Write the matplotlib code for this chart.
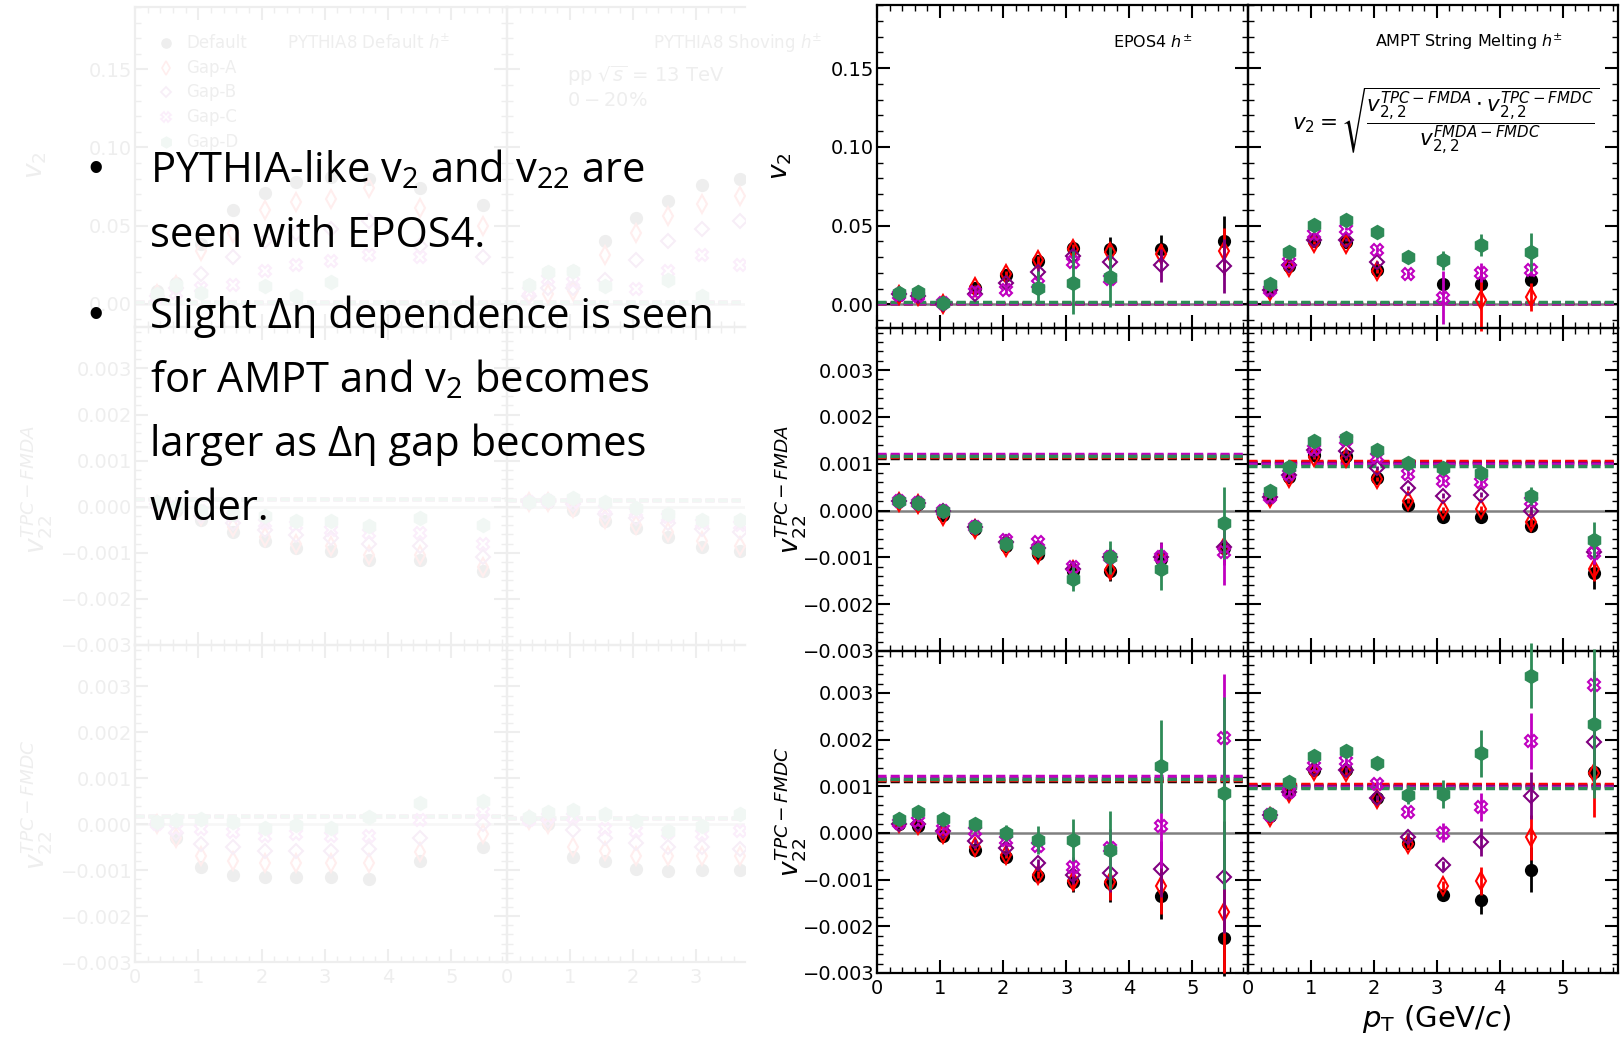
import numpy as np
import matplotlib
matplotlib.use("Agg")
import matplotlib.pyplot as plt
from matplotlib.ticker import MultipleLocator, FuncFormatter
from matplotlib.colors import to_rgb

nan = np.nan

# ---------------- data ----------------
series_names = ["Default", "Gap-A", "Gap-B", "Gap-C", "Gap-D"]
pt = [0.35, 0.65, 1.05, 1.55, 2.05, 2.55, 3.1, 3.7, 4.5, 5.5]

# EPOS4 v2
epos_v2 = [
    [0.006, 0.006, 0.001, 0.0106, 0.0185, 0.0277, 0.0355, 0.035, 0.035, 0.040],
    [0.006, 0.005, 0.0, 0.011, 0.019, 0.028, 0.035, 0.033, 0.032, 0.0336],
    [0.0064, 0.0053, 0.0, 0.0068, 0.0138, 0.0206, 0.0309, 0.0266, 0.0249, 0.0245],
    [0.006, 0.005, 0.001, 0.008, 0.009, 0.0128, 0.0266, 0.016, nan, nan],
    [0.0074, 0.0079, 0.001, nan, nan, 0.0106, 0.0138, 0.0174, nan, nan],
]
epos_v2_err = [
    [0.0008, 0.0008, 0.001, 0.0015, 0.002, 0.003, 0.0035, 0.0075, 0.009, 0.016],
    [0.0008, 0.0008, 0.001, 0.0015, 0.002, 0.003, 0.0035, 0.0045, 0.006, 0.015],
    [0.0008, 0.0008, 0.001, 0.0015, 0.002, 0.003, 0.004, 0.006, 0.0105, 0.017],
    [0.0008, 0.0008, 0.001, 0.002, 0.002, 0.003, 0.004, 0.005, nan, nan],
    [0.0008, 0.0008, 0.001, nan, nan, 0.0105, 0.020, 0.019, nan, nan],
]
# AMPT v2
ampt_v2 = [
    [0.0096, 0.0245, 0.040, 0.0394, 0.022, nan, 0.0128, 0.0128, 0.0153, nan],
    [0.0085, 0.024, 0.039, 0.038, 0.021, nan, nan, 0.003, 0.0047, nan],
    [0.009, 0.025, 0.041, 0.041, 0.0266, nan, nan, nan, nan, nan],
    [0.009, 0.027, 0.0447, 0.048, 0.0347, 0.019, 0.0043, 0.020, 0.022, nan],
    [0.0132, 0.033, 0.0504, 0.0536, 0.0457, 0.0298, 0.028, 0.0379, 0.033, nan],
]
ampt_v2_err = [
    [0.0005, 0.0008, 0.001, 0.001, 0.0012, nan, 0.003, 0.005, 0.004, nan],
    [0.0005, 0.0008, 0.001, 0.001, 0.0012, nan, nan, 0.020, 0.009, nan],
    [0.0005, 0.0008, 0.001, 0.001, 0.0012, nan, nan, nan, nan, nan],
    [0.0005, 0.0008, 0.001, 0.001, 0.0015, 0.002, 0.017, 0.006, 0.004, nan],
    [0.0005, 0.0008, 0.001, 0.001, 0.0015, 0.002, 0.006, 0.007, 0.012, nan],
]
# EPOS4 v22 TPC-FMDA
epos_v22a = [
    [0.00021, 0.00014, -0.0001, -0.00039, -0.00075, -0.00093, -0.00129, -0.00129, -0.00104, -0.00079],
    [0.00019, 0.00013, -0.00012, -0.00040, -0.00078, -0.00092, -0.00128, -0.00126, -0.00103, -0.00078],
    [0.00021, 0.00016, 0.0, -0.00035, -0.00068, -0.00080, -0.00125, -0.00099, -0.00100, -0.00077],
    [0.00021, 0.00016, 0.0, -0.00035, -0.00063, -0.00067, -0.00120, -0.00100, -0.00100, -0.00088],
    [0.00021, 0.00017, 0.0, -0.00035, -0.00072, -0.00085, -0.00146, -0.00100, -0.00124, -0.00027],
]
epos_v22a_err = [
    [2e-5, 2e-5, 3e-5, 3e-5, 4e-5, 5e-5, 8e-5, 0.00022, 0.00025, 0.0003],
    [2e-5, 2e-5, 3e-5, 3e-5, 4e-5, 5e-5, 8e-5, 0.0002, 0.00025, 0.0003],
    [2e-5, 2e-5, 3e-5, 3e-5, 4e-5, 5e-5, 1e-4, 0.0002, 0.00032, 0.0004],
    [2e-5, 2e-5, 3e-5, 3e-5, 4e-5, 5e-5, 1e-4, 0.00015, 0.0003, 0.0007],
    [2e-5, 2e-5, 3e-5, 3e-5, 4e-5, 6e-5, 0.00025, 0.00035, 0.00045, 0.00077],
]
# AMPT v22 TPC-FMDA
ampt_v22a = [
    [0.00029, 0.00071, 0.00118, 0.00116, 0.00069, 0.00012, -0.00014, -0.00014, -0.00032, -0.00134],
    [0.00027, 0.00070, 0.00115, 0.00113, 0.00068, 0.00021, 0.00001, 0.00004, -0.00025, -0.00125],
    [0.00029, 0.00075, 0.00129, 0.00127, 0.00091, 0.00048, 0.00032, 0.00034, 0.0, -0.00089],
    [0.00030, 0.00078, 0.00132, 0.00150, 0.00114, 0.00079, 0.00064, 0.00061, 0.00021, -0.00090],
    [0.00041, 0.00093, 0.00148, 0.00155, 0.00130, 0.00102, 0.00091, 0.00081, 0.00031, -0.00063],
]
ampt_v22a_err = [
    [2e-5, 3e-5, 4e-5, 4e-5, 4e-5, 5e-5, 6e-5, 6e-5, 1e-4, 0.00033],
    [2e-5, 3e-5, 4e-5, 4e-5, 4e-5, 5e-5, 6e-5, 6e-5, 1e-4, 0.00025],
    [2e-5, 3e-5, 4e-5, 4e-5, 4e-5, 5e-5, 6e-5, 6e-5, 1e-4, 0.00025],
    [2e-5, 3e-5, 4e-5, 4e-5, 4e-5, 5e-5, 6e-5, 6e-5, 1e-4, 0.00025],
    [2e-5, 3e-5, 4e-5, 4e-5, 4e-5, 5e-5, 6e-5, 6e-5, 0.0002, 0.00038],
]
# EPOS4 v22 TPC-FMDC
epos_v22c = [
    [0.00020, 0.00016, -0.00006, -0.00036, -0.00052, -0.00093, -0.00106, -0.00107, -0.00134, -0.00226],
    [0.00022, 0.00018, -0.00003, -0.00031, -0.00047, -0.00089, -0.00102, -0.00104, -0.00113, -0.00170],
    [0.00019, 0.00019, 0.00005, -0.00018, -0.00033, -0.00065, -0.00090, -0.00086, -0.00077, -0.00095],
    [0.00022, 0.00026, 0.00009, 0.00004, -0.00016, -0.00027, -0.00072, -0.00032, 0.00014, 0.00204],
    [0.00030, 0.00044, 0.00030, 0.00019, 0.0, -0.00016, -0.00016, -0.00036, 0.00143, 0.00086],
]
epos_v22c_err = [
    [3e-5, 3e-5, 3e-5, 5e-5, 6e-5, 8e-5, 0.0002, 0.0004, 0.0005, 0.0008],
    [3e-5, 3e-5, 3e-5, 5e-5, 6e-5, 8e-5, 0.0002, 0.0004, 0.0006, 0.0013],
    [3e-5, 3e-5, 3e-5, 5e-5, 8e-5, 1e-4, 0.0002, 0.0004, 0.0006, 0.0012],
    [3e-5, 3e-5, 3e-5, 6e-5, 1e-4, 1.2e-4, 0.0002, 0.0004, 0.0009, 0.00136],
    [3e-5, 3e-5, 4e-5, 6e-5, 0.00018, 0.0003, 0.00045, 0.00083, 0.0010, 0.00205],
]
# AMPT v22 TPC-FMDC
ampt_v22c = [
    [0.00037, 0.00087, 0.00134, 0.00135, 0.00075, -0.00021, -0.00132, -0.00144, -0.00079, 0.00130],
    [0.00035, 0.00085, 0.00133, 0.00130, 0.00072, -0.00024, -0.00113, -0.00102, -0.00009, 0.00129],
    [0.00038, 0.00088, 0.00137, 0.00136, 0.00076, -0.00009, -0.00069, -0.00019, 0.00080, 0.00196],
    [0.00038, 0.00088, 0.00144, 0.00155, 0.00105, 0.00046, 0.00001, 0.00056, 0.00198, 0.00318],
    [0.00041, 0.00110, 0.00164, 0.00176, 0.00151, 0.00082, 0.00084, 0.00171, 0.00337, 0.00234],
]
ampt_v22c_err = [
    [3e-5, 4e-5, 5e-5, 5e-5, 6e-5, 8e-5, 1e-4, 0.0003, 0.00048, 0.0003],
    [3e-5, 4e-5, 5e-5, 5e-5, 6e-5, 8e-5, 1e-4, 0.0003, 0.00048, 0.00095],
    [3e-5, 4e-5, 5e-5, 5e-5, 6e-5, 8e-5, 1e-4, 0.0003, 0.0005, 0.0011],
    [3e-5, 4e-5, 5e-5, 5e-5, 6e-5, 8e-5, 0.0002, 0.0003, 0.0006, 0.0003],
    [3e-5, 4e-5, 5e-5, 5e-5, 6e-5, 0.0002, 0.0003, 0.0005, 0.0007, 0.0016],
]
# dashed reference levels per series
epos_v2_ref = [0.0010, 0.0010, 0.0011, 0.0011, 0.0012]
ampt_v2_ref = [0.0010, 0.0010, 0.0011, 0.0011, 0.0012]
epos_v22a_ref = [0.00112, 0.00114, 0.00119, 0.00121, 0.00116]
epos_v22c_ref = [0.00112, 0.00114, 0.00118, 0.00123, 0.00116]
ampt_v22a_ref = [0.00103, 0.00105, 0.00101, 0.00099, 0.00096]
ampt_v22c_ref = [0.00103, 0.00105, 0.00101, 0.00099, 0.00096]

# faded background (PYTHIA8) values
py_def_v2 = [
    [0.008, 0.013, 0.038, 0.060, 0.071, 0.078, 0.081, 0.080, 0.074, 0.063],
    [0.006, 0.012, 0.034, 0.045, 0.060, 0.065, 0.067, 0.074, 0.061, 0.050],
    [0.005, 0.010, 0.019, 0.030, 0.040, 0.045, 0.048, 0.053, 0.037, 0.030],
    [0.004, 0.007, 0.010, 0.012, 0.021, 0.025, 0.027, 0.031, 0.030, nan],
    [0.006, 0.012, 0.007, nan, 0.011, 0.005, 0.014, nan, nan, nan],
]
py_sho_v2 = [
    [0.012, 0.020, 0.021, 0.040, 0.055, 0.066, 0.076, 0.080, nan, nan],
    [0.006, 0.006, 0.008, 0.031, 0.045, 0.056, 0.064, 0.069, nan, nan],
    [0.005, 0.010, 0.010, 0.015, 0.028, 0.040, 0.048, 0.053, nan, nan],
    [0.008, 0.016, 0.014, nan, 0.0096, 0.021, 0.031, 0.025, nan, nan],
    [0.012, 0.020, 0.021, 0.011, nan, 0.015, 0.005, nan, nan, nan],
]
py_def_v22a = [
    [0.00005, -0.0001, -0.00028, -0.00054, -0.00074, -0.0009, -0.00096, -0.00115, -0.00115, -0.0014],
    [0.00003, -0.00008, -0.0002, -0.00045, -0.00065, -0.0008, -0.00086, -0.00105, -0.00105, -0.0013],
    [0.00005, -0.00005, -0.0002, -0.00035, -0.0005, -0.00062, -0.00068, -0.0008, -0.00085, -0.0011],
    [0.00008, 0.0, -0.0001, -0.0002, -0.00035, -0.0004, -0.0005, -0.00058, -0.00058, -0.0008],
    [0.0001, 0.0, -0.0001, -0.00015, -0.00021, -0.00032, -0.00032, -0.00041, -0.00025, -0.00039],
]
py_sho_v22a = [
    [0.0001, 0.0001, -0.00007, -0.00032, -0.00046, -0.00065, -0.00087, -0.00097, nan, nan],
    [0.0001, 0.0001, -0.00003, -0.00026, -0.0004, -0.00055, -0.00075, -0.00085, nan, nan],
    [0.0001, 0.00012, 0.00005, -0.00015, -0.00025, -0.00035, -0.00048, -0.00055, nan, nan],
    [0.0001, 0.00013, 0.0001, -0.00005, -0.00012, -0.00022, -0.00035, -0.0004, nan, nan],
    [0.0001, 0.00015, 0.0002, 0.0001, -0.00003, -0.00015, -0.00028, -0.00028, nan, nan],
]
py_def_v22c = [
    [0.00004, -0.0003, -0.00093, -0.00111, -0.00116, -0.00116, -0.00116, -0.00119, -0.0008, -0.0005],
    [0.0, -0.0003, -0.0007, -0.0008, -0.00085, -0.00085, -0.00085, -0.00085, -0.0006, -0.00022],
    [0.0, -0.0002, -0.00044, -0.0005, -0.00059, -0.00059, -0.00059, -0.00053, -0.0003, 0.0],
    [0.0, -0.0001, -0.0001, -0.00018, -0.00026, -0.00022, -0.00026, -0.00026, 0.0001, 0.00026],
    [0.00005, 0.0001, 0.00011, 0.00004, -0.00009, -0.00001, -0.00009, 0.00015, 0.00046, 0.0005],
]
py_sho_v22c = [
    [0.00011, 0.0, -0.00072, -0.0008, -0.00097, -0.00103, -0.001, -0.001, nan, nan],
    [0.0001, 0.0, -0.0005, -0.00059, -0.0007, -0.0007, -0.0007, -0.0007, nan, nan],
    [0.0001, 0.0001, -0.00013, -0.0003, -0.0004, -0.0005, -0.0005, -0.00053, nan, nan],
    [0.0001, 0.00015, 0.00015, -0.0001, -0.00015, -0.0002, -0.00022, -0.00015, nan, nan],
    [0.00015, 0.00026, 0.0003, 0.00022, 0.00007, -0.00015, -0.00004, 0.00022, nan, nan],
]
py_v2_ref = [0.001] * 5
py_def_v22a_ref = [0.00017] * 5
py_sho_v22a_ref = [0.00015] * 5
py_def_v22c_ref = [0.00018] * 5
py_sho_v22c_ref = [0.00014] * 5

# ---------------- style ----------------
colors = ["black", "red", "purple", "#c000c0", "seagreen"]
markers = ["o", "d", "D", "X", "h"]
msizes = [8, 9, 7, 8.5, 9.5]
filled = [True, False, False, False, True]

W, H, DPI = 1623, 1037, 100
fig = plt.figure(figsize=(W / DPI, H / DPI), dpi=DPI)
fig.patch.set_facecolor("white")

FADE = 0.065


def fade(c, a=FADE):
    r, g, b = to_rgb(c)
    return (1 - a * (1 - r), 1 - a * (1 - g), 1 - a * (1 - b))


def add_ax(x0, y0, x1, y1):
    return fig.add_axes([x0 / W, 1 - y1 / H, (x1 - x0) / W, (y1 - y0) / H])


def fmt_factory(nd):
    def f(v, pos):
        s = f"{v:.{nd}f}"
        if float(s) == 0:
            s = f"{0:.{nd}f}"
        return s.replace("-", "\u2212")
    return FuncFormatter(f)


def style(ax, ylim, major, minor, nd, xlim=(0, 5.88), labelleft=True,
          labelbottom=False, faded=False):
    fc = fade("black") if faded else "black"
    ax.set_xlim(*xlim)
    ax.set_ylim(*ylim)
    ax.set_facecolor("none")
    ax.xaxis.set_major_locator(MultipleLocator(1))
    ax.xaxis.set_minor_locator(MultipleLocator(0.2))
    ax.yaxis.set_major_locator(MultipleLocator(major))
    ax.yaxis.set_minor_locator(MultipleLocator(minor))
    ax.yaxis.set_major_formatter(fmt_factory(nd))
    ax.tick_params(which="both", direction="in", top=True, right=True,
                   labelleft=labelleft, labelbottom=labelbottom,
                   color=fc, labelcolor=fc)
    ax.tick_params(which="major", length=9.5, width=1.5, labelsize=14)
    ax.tick_params(axis="y", which="major", pad=2)
    ax.tick_params(axis="x", which="major", pad=4)
    ax.tick_params(which="minor", length=4.5, width=1)
    for s in ax.spines.values():
        s.set_linewidth(1.6)
        s.set_color(fc)


def draw(ax, vals, errs, refs, faded=False):
    ax.axhline(0, color=fade("gray") if faded else "gray", lw=1.8, zorder=1)
    for i in range(5):
        c = fade(colors[i]) if faded else colors[i]
        ax.axhline(refs[i], color=c, lw=2.5, dashes=(2.6, 1.2), zorder=2)
    for i in range(5):
        c = fade(colors[i]) if faded else colors[i]
        mfc = c if filled[i] else "none"
        if errs is None:
            ax.plot(pt, vals[i], ls="none", marker=markers[i], ms=msizes[i],
                    mfc=mfc, mec=c, mew=1.5, zorder=3 + i)
        else:
            ax.errorbar(pt, vals[i], yerr=errs[i], fmt=markers[i], color=c,
                        ms=msizes[i], mfc=mfc, mec=c, mew=1.5, elinewidth=2,
                        capsize=0, zorder=3 + i, clip_on=False)


# ---------------- faded background figure ----------------
fcolA = (135, 507)
fcolB = (507, 745)
frows = [(7, 327), (327, 645), (645, 962)]
fsets = [
    (py_def_v2, py_sho_v2, (-0.015, 0.19), 0.05, 0.01, 2, py_v2_ref, py_v2_ref),
    (py_def_v22a, py_sho_v22a, (-0.003, 0.0039), 0.001, 0.0002, 3, py_def_v22a_ref, py_sho_v22a_ref),
    (py_def_v22c, py_sho_v22c, (-0.003, 0.0039), 0.001, 0.0002, 3, py_def_v22c_ref, py_sho_v22c_ref),
]
for r, (va, vb, yl, mj, mn, nd, ra, rb) in enumerate(fsets):
    y0, y1 = frows[r]
    axa = add_ax(fcolA[0], y0, fcolA[1], y1)
    style(axa, yl, mj, mn, nd, labelleft=True, labelbottom=(r == 2), faded=True)
    draw(axa, va, None, ra, faded=True)
    axb = add_ax(fcolB[0], y0, fcolB[1], y1)
    style(axb, yl, mj, mn, nd, xlim=(0, 3.78), labelleft=False,
          labelbottom=(r == 2), faded=True)
    axb.spines["right"].set_visible(False)
    axb.tick_params(which="both", right=False)
    draw(axb, vb, None, rb, faded=True)
    if r == 0:
        for i in range(5):
            fy = 1 - (43 + 24.7 * i) / H
            fig.lines.append(plt.Line2D([166 / W], [fy], transform=fig.transFigure,
                                        ls="none", marker=markers[i], ms=msizes[i] * 0.8,
                                        mfc=fade(colors[i]) if filled[i] else "none",
                                        mec=fade(colors[i]), mew=1.2))
            fig.text(186 / W, fy, series_names[i], fontsize=12, color=fade("black"),
                     va="center", ha="left")
        fig.text(287 / W, 1 - 43 / H, r"PYTHIA8 Default $h^{\pm}$", fontsize=12,
                 color=fade("black"), va="center", ha="left")
        fig.text(653 / W, 1 - 43 / H, r"PYTHIA8 Shoving $h^{\pm}$", fontsize=12,
                 color=fade("black"), va="center", ha="left")
        fig.text(567 / W, 1 - 76 / H, r"pp $\sqrt{s}$ = 13 TeV", fontsize=14,
                 color=fade("black"), va="center", ha="left")
        fig.text(567 / W, 1 - 100 / H, r"$0-20\%$", fontsize=14,
                 color=fade("black"), va="center", ha="left")

for yc, lab in [(165, r"$v_2$"), (490, r"$v_{22}^{TPC-FMDA}$"), (805, r"$v_{22}^{TPC-FMDC}$")]:
    fig.text(36 / W, 1 - yc / H, lab, rotation=90, fontsize=19, color=fade("black"),
             ha="center", va="center")

# ---------------- main panels ----------------
cols = [(877, 1248), (1248, 1618)]
rows = [(5, 328), (328, 651), (651, 973)]
panel_sets = [
    [(epos_v2, epos_v2_err, epos_v2_ref), (ampt_v2, ampt_v2_err, ampt_v2_ref)],
    [(epos_v22a, epos_v22a_err, epos_v22a_ref), (ampt_v22a, ampt_v22a_err, ampt_v22a_ref)],
    [(epos_v22c, epos_v22c_err, epos_v22c_ref), (ampt_v22c, ampt_v22c_err, ampt_v22c_ref)],
]
row_style = [((-0.015, 0.19), 0.05, 0.01, 2),
             ((-0.003, 0.0039), 0.001, 0.0002, 3),
             ((-0.003, 0.0039), 0.001, 0.0002, 3)]
axes = {}
for r in range(3):
    for c in range(2):
        ax = add_ax(cols[c][0], rows[r][0], cols[c][1], rows[r][1])
        yl, mj, mn, nd = row_style[r]
        style(ax, yl, mj, mn, nd, labelleft=(c == 0), labelbottom=(r == 2))
        v, e, rf = panel_sets[r][c]
        draw(ax, v, e, rf)
        axes[(r, c)] = ax

axes[(0, 0)].text(0.85, 0.885, r"EPOS4 $h^{\pm}$", transform=axes[(0, 0)].transAxes,
                  fontsize=11.5, ha="right", va="center")
axes[(0, 1)].text(0.85, 0.885, r"AMPT String Melting $h^{\pm}$",
                  transform=axes[(0, 1)].transAxes, fontsize=11.5, ha="right", va="center")
axes[(0, 1)].text(0.535, 0.64,
                  r"$v_2 = \sqrt{\dfrac{v_{2,2}^{TPC-FMDA} \cdot v_{2,2}^{TPC-FMDC}}{v_{2,2}^{FMDA-FMDC}}}$",
                  transform=axes[(0, 1)].transAxes, fontsize=15.5, ha="center", va="center")

for yc, xc, lab in [(166, 781, r"$v_2$"), (490, 790, r"$v_{22}^{TPC-FMDA}$"),
                    (812, 790, r"$v_{22}^{TPC-FMDC}$")]:
    fig.text(xc / W, 1 - yc / H, lab, rotation=90, fontsize=19, ha="center", va="center")

fig.text(1437 / W, 1 - 1019 / H, r"$p_{\rm T}$ (GeV/$c$)", fontsize=21, ha="center",
         va="center")

# ---------------- slide text ----------------
BF = "Open Sans"
bsize = 30
lines = [
    (182, r"PYTHIA-like $\mathregular{v_2}$ and $\mathregular{v_{22}}$ are", True),
    (247, "seen with EPOS4.", False),
    (328, "Slight \u0394\u03b7 dependence is seen", True),
    (392, r"for AMPT and $\mathregular{v_2}$ becomes", False),
    (456, "larger as \u0394\u03b7 gap becomes", False),
    (520, "wider.", False),
]
for yb, s, bullet in lines:
    fig.text(150 / W, 1 - yb / H, s, fontsize=bsize, family=BF, ha="left",
             va="baseline", color="black")
    if bullet:
        fig.text(96 / W, 1 - (yb - 12) / H, "\u2022", fontsize=bsize,
                 family="Liberation Sans", ha="center", va="center", color="black")

fig.savefig("out.png", dpi=DPI, facecolor="white")
